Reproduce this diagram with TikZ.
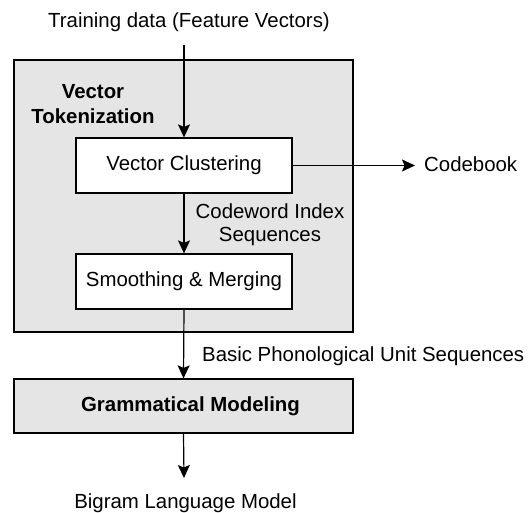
\documentclass[tikz,border=0pt]{standalone}
\usepackage{fontspec}
\setmainfont{Liberation Sans}
\usetikzlibrary{arrows.meta}
\definecolor{boxgray}{RGB}{229,229,229}
\begin{document}
\begin{tikzpicture}[x=1pt,y=-1pt,
  every node/.style={font=\fontsize{20.4}{23.5}\selectfont, inner sep=0pt},
  box/.style={draw=black, line width=1.2pt, rectangle, minimum width=216pt, minimum height=55pt},
  bigbox/.style={draw=black, line width=1.2pt, fill=boxgray, rectangle},
  flow/.style={line width=1.2pt, -{Stealth[length=13pt,width=12pt,inset=2.5pt]}},
  lbl/.style={anchor=base}
]
\useasboundingbox (0,0) rectangle (528,513);
% outer Vector Tokenization box
\node[bigbox, minimum width=339pt, minimum height=272pt] (vt) at (183.5,196) {};
\node[align=center, font=\fontsize{20.4}{24.5}\selectfont\bfseries] (vtl) at (93,104) {Vector\\Tokenization};
% inner boxes
\node[box, fill=white] (vc) at (184,165.5) {Vector Clustering};
\node[box, fill=white] (sm) at (184,281.5) {Smoothing \& Merging};
% grammatical modeling
\node[bigbox, minimum width=339pt, minimum height=54pt,
  label={[xshift=7pt, font=\fontsize{20.4}{23.5}\selectfont\bfseries]center:Grammatical Modeling}] (gm) at (183.5,406) {};
% texts
\node[lbl] (train) at (189,28) {Training data (Feature Vectors)};
\node[anchor=base west] (cb) at (424,172) {Codebook};
\node[align=center] (cw) at (270,224.5) {Codeword Index\\Sequences};
\node[anchor=base west] (bp) at (202,362) {Basic Phonological Unit Sequences};
\node[lbl] (bg) at (185.5,508) {Bigram Language Model};
% coordinates
\coordinate (tin) at (184,45);
\coordinate (cbend) at (415,165.5);
\coordinate (gout) at (184,478);
% connectors
\draw[flow] (tin) -- (vc.north);
\draw[flow] (vc.east) -- (cbend);
\draw[flow] (vc.south) -- (sm.north);
\draw[flow] (sm.south) -- (gm.north);
\draw[flow] (gm.south) -- (gout);
\end{tikzpicture}
\end{document}
